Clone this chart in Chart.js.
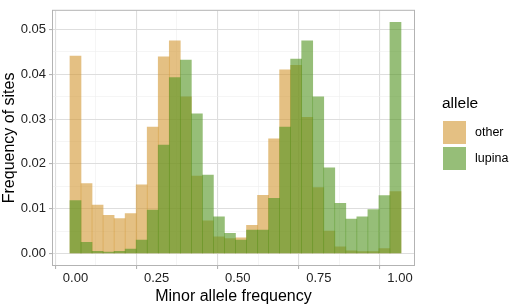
<!DOCTYPE html>
<html lang="en">
<head>
  <meta charset="UTF-8">
  <title>Minor allele frequency histogram</title>
  <script src="https://cdn.jsdelivr.net/npm/chart.js"></script>
  <style>
    html, body { margin: 0; padding: 0; background: #fff; }
    #wrap { width: 510px; height: 306px; position: relative; }
  </style>
</head>
<body>
  <div id="wrap"><canvas id="mychart" width="510" height="306"></canvas></div>
  <script>
    // bin centres (minor allele frequency)
    const binCenters = [0, 0.034, 0.068, 0.102, 0.136, 0.170, 0.204, 0.238, 0.272, 0.306,
      0.340, 0.374, 0.408, 0.442, 0.476, 0.510, 0.544, 0.578, 0.612, 0.646,
      0.680, 0.714, 0.748, 0.782, 0.816, 0.850, 0.884, 0.918, 0.952, 0.986];

    const otherFreq = [0.0441, 0.0156, 0.0108, 0.0085, 0.0078, 0.0089, 0.0153, 0.0282, 0.0439, 0.0475,
      0.0350, 0.0173, 0.0073, 0.0037, 0.0033, 0.0035, 0.0063, 0.0130, 0.0256, 0.0410,
      0.0420, 0.0304, 0.0147, 0.0050, 0.0015, 0.0006, 0.0004, 0.0004, 0.0011, 0.0138];

    const lupinaFreq = [0.0118, 0.0025, 0.0005, 0.0003, 0.0005, 0.0010, 0.0030, 0.0097, 0.0242, 0.0393,
      0.0432, 0.0312, 0.0175, 0.0082, 0.0045, 0.0030, 0.0052, 0.0052, 0.0123, 0.0282,
      0.0434, 0.0475, 0.0350, 0.0191, 0.0112, 0.0077, 0.0082, 0.0098, 0.0129, 0.0516];

    const seriesNames = ['other', 'lupina'];
    const xTicks = [0, 0.25, 0.5, 0.75, 1];
    const yTicks = [0, 0.01, 0.02, 0.03, 0.04, 0.05];

    const FONT = "'Liberation Sans', Arial, sans-serif";
    const otherFill = 'rgba(210,150,48,0.6)';
    const lupinaFill = 'rgba(80,147,30,0.6)';

    const isMajor = (v, list) => list.some(t => Math.abs(t - v) < 1e-7);
    // pick a grid style depending on major/minor tick
    const gridStyle = (list, major, minor) => c => {
      if (!c.tick) return major;
      return isMajor(c.tick.value, list) ? major : minor;
    };

    // panel border + legend, drawn by hand like ggplot
    const ggExtras = {
      id: 'ggExtras',
      afterDraw(chart) {
        const { ctx, chartArea: a } = chart;
        ctx.save();
        ctx.strokeStyle = '#b3b3b3';
        ctx.lineWidth = 1;
        ctx.strokeRect(a.left - 0.5, a.top - 0.5, a.right - a.left + 1, a.bottom - a.top + 1);

        // legend
        ctx.fillStyle = '#000';
        ctx.font = '15.5px ' + FONT;
        ctx.textBaseline = 'middle';
        ctx.textAlign = 'left';
        ctx.fillText('allele', 442, 104);
        const fills = [otherFill, lupinaFill];
        seriesNames.forEach((name, i) => {
          const y = 121 + i * 26;
          ctx.fillStyle = fills[i];
          ctx.fillRect(443, y, 23, 23);
          ctx.fillStyle = '#000';
          ctx.font = '12.5px ' + FONT;
          ctx.fillText(name, 475, y + 12);
        });
        ctx.restore();
      }
    };

    new Chart(document.getElementById('mychart'), {
      type: 'bar',
      data: {
        datasets: [
          {
            label: seriesNames[0],
            data: binCenters.map((x, i) => ({ x: x, y: otherFreq[i] })),
            backgroundColor: otherFill,
            borderWidth: 0,
            order: 2
          },
          {
            label: seriesNames[1],
            data: binCenters.map((x, i) => ({ x: x, y: lupinaFreq[i] })),
            backgroundColor: lupinaFill,
            borderWidth: 0,
            order: 1
          }
        ]
      },
      options: {
        responsive: false,
        animation: false,
        events: [],
        layout: { padding: { top: 1, right: 96, left: 0, bottom: 0 } },
        datasets: { bar: { barPercentage: 1, categoryPercentage: 1, grouped: false } },
        plugins: { legend: { display: false }, tooltip: { enabled: false } },
        scales: {
          x: {
            type: 'linear',
            offset: false,
            min: -0.0693,
            max: 1.0431,
            afterFit(s) { s.height = 41; },
            border: { display: false },
            grid: {
              color: gridStyle(xTicks, '#dedede', '#efefef'),
              lineWidth: gridStyle(xTicks, 1.1, 0.6),
              tickColor: gridStyle(xTicks, '#b3b3b3', 'rgba(0,0,0,0)'),
              tickLength: 4
            },
            ticks: {
              stepSize: 0.125,
              includeBounds: false,
              autoSkip: false,
              maxRotation: 0,
              padding: 2,
              color: '#222',
              font: { family: FONT, size: 13 },
              callback: v => isMajor(v, xTicks) ? v.toFixed(2) : ''
            },
            title: {
              display: true,
              text: 'Minor allele frequency',
              color: '#000',
              font: { family: FONT, size: 16 },
              padding: { top: 0, bottom: 0 }
            }
          },
          y: {
            min: -0.00258,
            max: 0.0542,
            afterFit(s) { s.width = 53; },
            border: { display: false },
            grid: {
              color: gridStyle(yTicks, '#dedede', '#efefef'),
              lineWidth: gridStyle(yTicks, 1.1, 0.6),
              tickColor: gridStyle(yTicks, '#b3b3b3', 'rgba(0,0,0,0)'),
              tickLength: 4
            },
            ticks: {
              stepSize: 0.005,
              includeBounds: false,
              autoSkip: false,
              padding: 3,
              color: '#222',
              font: { family: FONT, size: 13 },
              callback: v => isMajor(v, yTicks) ? v.toFixed(2) : ''
            },
            title: {
              display: true,
              text: 'Frequency of sites',
              color: '#000',
              font: { family: FONT, size: 16 },
              padding: { top: 0, bottom: 1 }
            }
          }
        }
      },
      plugins: [ggExtras]
    });
  </script>
</body>
</html>
